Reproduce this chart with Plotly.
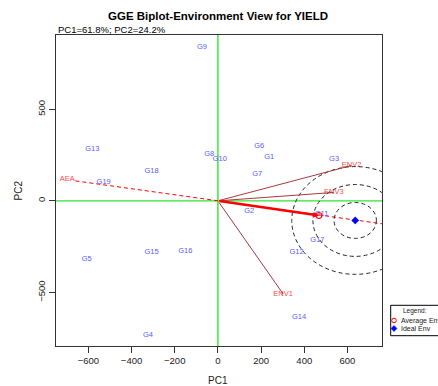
import plotly.graph_objects as go

# Genotype scores (PC1, PC2)
genotypes = ["G1", "G2", "G3", "G4", "G5", "G6", "G7", "G8", "G9", "G10",
             "G11", "G12", "G13", "G14", "G15", "G16", "G17", "G18", "G19"]
gen_pc1 = [238, 145, 538, -324, -608, 191, 182, -40, -74, 9,
           480, 364, -582, 376, -307, -151, 461, -307, -529]
gen_pc2 = [237, -55, 226, -734, -317, 301, 146, 257, 838, 230,
           -75, -280, 281, -634, -280, -277, -217, 161, 102]

# Environment scores
environments = ["ENV1", "ENV2", "ENV3"]
env_pc1 = [302, 619, 537]
env_pc2 = [-508, 193, 46]

# Average environment coordinate and ideal environment
aec_pc1, aec_pc2 = 468, -80
ideal_pc1, ideal_pc2 = 636, -107

# Average environment axis end points
aea_pc1 = [-660, 760]
aea_pc2 = [109, -125]
aea_label = "AEA"

# Concentric circle radii around the ideal environment
circle_radii = [98, 196, 294]

x_ticks = [-600, -400, -200, 0, 200, 400, 600]
y_ticks = [-500, 0, 500]
x_range = [-750, 760]
y_range = [-792, 905]

gen_color = "#5a5aff"
env_color = "#ff4a4a"
arrow_color = "#a83a3a"
axis_green = "#2ee62e"
font = "Liberation Sans, Arial, sans-serif"

fig = go.Figure()

# Green reference axes through the origin
fig.add_shape(type="line", xref="x", yref="paper", x0=0, x1=0, y0=0, y1=1,
              line=dict(color=axis_green, width=1.4), layer="below")
fig.add_shape(type="line", xref="paper", yref="y", x0=0, x1=1, y0=0, y1=0,
              line=dict(color=axis_green, width=1.4), layer="below")

# Average environment axis (dashed red)
fig.add_trace(go.Scatter(x=aea_pc1, y=aea_pc2, mode="lines",
                         line=dict(color="red", width=1, dash="4px,3px"),
                         hoverinfo="skip", showlegend=False))
fig.add_trace(go.Scatter(x=[-698], y=[119], mode="text", text=[aea_label],
                         textfont=dict(color=env_color, size=7.5, family=font),
                         showlegend=False))

# Circles around the ideal environment
for r in circle_radii:
    fig.add_shape(type="circle", xref="x", yref="y",
                  x0=ideal_pc1 - r, x1=ideal_pc1 + r,
                  y0=ideal_pc2 - r, y1=ideal_pc2 + r,
                  line=dict(color="#222", width=1, dash="4px,3px"))

# Environment vectors
for ex, ey in zip(env_pc1, env_pc2):
    fig.add_annotation(x=ex, y=ey, ax=0, ay=0, xref="x", yref="y",
                       axref="x", ayref="y", text="", showarrow=True,
                       arrowhead=2, arrowsize=0.4, arrowwidth=1,
                       arrowcolor=arrow_color)

# Average environment vector
fig.add_annotation(x=aec_pc1, y=aec_pc2, ax=0, ay=0, xref="x", yref="y",
                   axref="x", ayref="y", text="", showarrow=True,
                   arrowhead=2, arrowsize=0.45, arrowwidth=2.5,
                   arrowcolor="red")

# Genotype labels
fig.add_trace(go.Scatter(x=gen_pc1, y=gen_pc2, mode="text", text=genotypes,
                         textfont=dict(color=gen_color, size=7.5, family=font),
                         showlegend=False))

# Environment labels
fig.add_trace(go.Scatter(x=env_pc1, y=env_pc2, mode="text", text=environments,
                         textfont=dict(color=env_color, size=7.5, family=font),
                         showlegend=False))

# AEC and ideal markers
fig.add_trace(go.Scatter(x=[aec_pc1], y=[aec_pc2], mode="markers",
                         marker=dict(symbol="circle-open", color="red", size=6,
                                     line=dict(width=1.2)),
                         showlegend=False))
fig.add_trace(go.Scatter(x=[ideal_pc1], y=[ideal_pc2], mode="markers",
                         marker=dict(symbol="diamond", color="blue", size=6),
                         showlegend=False))

# Legend box drawn outside the plotting region
def px(xp):
    return (xp - 56) / 326


def py(yp):
    return (346 - yp) / 311


fig.add_shape(type="rect", xref="paper", yref="paper",
              x0=px(390.7), x1=px(460), y0=py(335.7), y1=py(305.3),
              line=dict(color="black", width=1), fillcolor="white")
fig.add_shape(type="circle", xref="paper", yref="paper",
              xsizemode="pixel", ysizemode="pixel",
              xanchor=px(394), yanchor=py(320.5),
              x0=-2.3, x1=2.3, y0=-2.3, y1=2.3,
              line=dict(color="red", width=1))
fig.add_shape(type="path", xref="paper", yref="paper",
              xsizemode="pixel", ysizemode="pixel",
              xanchor=px(394), yanchor=py(328.5),
              path="M0,3 L3,0 L0,-3 L-3,0 Z",
              line=dict(color="blue", width=0.5), fillcolor="blue")
fig.add_annotation(xref="paper", yref="paper", x=px(415), y=py(311),
                   text="Legend:", showarrow=False, xanchor="center",
                   yanchor="middle", font=dict(size=6.5, family=font, color="#222"))
fig.add_annotation(xref="paper", yref="paper", x=px(399), y=py(320.5),
                   text="Average Env", showarrow=False, xanchor="left",
                   yanchor="middle", font=dict(size=7, family=font, color="#222"))
fig.add_annotation(xref="paper", yref="paper", x=px(399), y=py(328.5),
                   text="Ideal Env", showarrow=False, xanchor="left",
                   yanchor="middle", font=dict(size=7, family=font, color="#222"))

# Titles
fig.add_annotation(xref="paper", yref="paper", x=px(218), y=py(16),
                   text="<b>GGE Biplot-Environment View for YIELD</b>",
                   showarrow=False, xanchor="center", yanchor="middle",
                   font=dict(size=11.5, family=font, color="black"))
fig.add_annotation(xref="paper", yref="paper", x=0, y=py(30),
                   text="PC1=61.8%; PC2=24.2%", showarrow=False,
                   xanchor="left", yanchor="middle",
                   font=dict(size=9.5, family=font, color="black"))
fig.add_annotation(xref="paper", yref="paper", x=px(218), y=py(380),
                   text="PC1", showarrow=False, xanchor="center",
                   yanchor="middle", font=dict(size=10, family=font, color="#222"))
fig.add_annotation(xref="paper", yref="paper", x=px(18), y=0.5,
                   text="PC2", showarrow=False, textangle=-90,
                   xanchor="center", yanchor="middle",
                   font=dict(size=10, family=font, color="#222"))

axis_common = dict(showgrid=False, showline=True, linecolor="#333",
                   linewidth=1, mirror=True, ticks="outside", ticklen=6,
                   tickcolor="#333", tickfont=dict(size=9.5, family=font,
                                                   color="#222"),
                   zeroline=False)

fig.update_layout(
    width=438, height=386,
    margin=dict(l=56, r=56, t=35, b=40),
    paper_bgcolor="white", plot_bgcolor="white",
    xaxis=dict(range=x_range, tickvals=x_ticks, **axis_common),
    yaxis=dict(range=y_range, tickvals=y_ticks, tickangle=-90, **axis_common),
    showlegend=False,
)

fig.write_html("out.html")
